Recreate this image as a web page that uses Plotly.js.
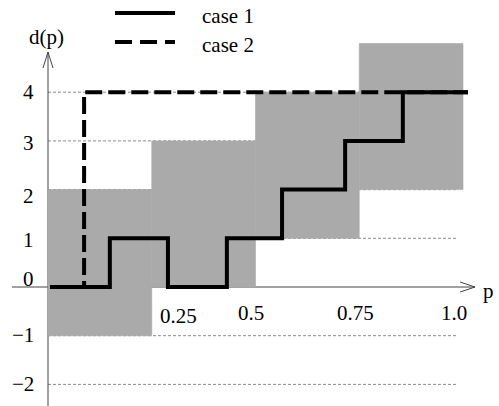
<!DOCTYPE html>
<html>
<head>
<meta charset="utf-8">
<script src="https://cdn.plot.ly/plotly-3.0.1.min.js"></script>
<style>html,body{margin:0;padding:0;background:#fff}#chart{width:499px;height:406px}</style>
</head>
<body>
<div id="chart"></div>
<script>
// ---- data ----
const seriesNames = ['case 1', 'case 2'];
const case1P = [0.005, 0.149, 0.289, 0.431, 0.564, 0.716, 0.855, 1.012];
const case1D = [0, 1, 0, 1, 2, 3, 4, 4];
const case2P = [0.005, 0.087, 1.012];
const case2D = [0, 4, 4];
// shaded intervals: p from..to, d from..to
const boxP0 = [0, 0.25, 0.5, 0.75];
const boxP1 = [0.25, 0.5, 0.75, 1.0];
const boxLo = [-1, 0, 1, 2];
const boxHi = [2, 3, 4, 5];
const gridLevels = [4, 3, 2, 1, -1, -2];
const xTickVals = [0.25, 0.5, 0.75, 1.0];
const xTickText = ['0.25', '0.5', '0.75', '1.0'];
const yTickVals = [4, 3, 2, 1, 0, -1, -2];
const yTickText = ['4', '3', '2', '1', '0', '\u22121', '\u22122'];
const xAxisTitle = 'p';
const yAxisTitle = 'd(p)';

// ---- layout tweaks (label nudges, px) ----
const xLabelShiftX = [27, -5, -4, -9];
const xLabelShiftY = [-3, 0, 0, 0];
const yLabelShiftY = [0, -2, -6, -2, 8, 1, 0];

const FONT = '"Liberation Serif", "Times New Roman", Times, serif';
const W = 499, H = 406;
const xr = [-48 / 415, -48 / 415 + W / 415];
const y0px = 287, ppu = 48.7;
const yr = [-(H - y0px) / ppu, y0px / ppu];
const gridEnd = 0.988;
const xAxisStart = -0.087, xAxisEnd = 1.029;
const yAxisTop = (y0px - 52) / ppu;
const BOX = '#aaaaaa';

const traces = [];
for (let i = 0; i < boxP0.length; i++) {
  traces.push({
    x: [boxP0[i], boxP1[i], boxP1[i], boxP0[i], boxP0[i]],
    y: [boxLo[i], boxLo[i], boxHi[i], boxHi[i], boxLo[i]],
    mode: 'lines', fill: 'toself', fillcolor: BOX,
    line: {width: 0.6, color: BOX}, hoverinfo: 'skip', showlegend: false
  });
}
traces.push({x: case2P, y: case2D, mode: 'lines', name: seriesNames[1],
  line: {shape: 'hv', color: '#000', width: 4, dash: '17px,6px'}, showlegend: false});
traces.push({x: case1P, y: case1D, mode: 'lines', name: seriesNames[0],
  line: {shape: 'hv', color: '#000', width: 4}, showlegend: false});

const shapes = [];
gridLevels.forEach(v => shapes.push({type: 'line', layer: 'below', xref: 'x', yref: 'y',
  x0: 0, x1: gridEnd, y0: v, y1: v, line: {color: '#8a8a8a', width: 1, dash: '3px,2px'}}));
// axes
shapes.push({type: 'line', layer: 'below', xref: 'x', yref: 'y', x0: xAxisStart, x1: xAxisEnd, y0: 0, y1: 0,
  line: {color: '#444', width: 1}});
shapes.push({type: 'line', layer: 'below', xref: 'x', yref: 'y', x0: 0, x1: 0, y0: yr[0], y1: yAxisTop,
  line: {color: '#444', width: 1}});
shapes.push({type: 'path', xref: 'x', yref: 'y', xsizemode: 'pixel', ysizemode: 'pixel',
  xanchor: xAxisEnd, yanchor: 0, path: 'M-15,-5L0,0L-15,5', line: {color: '#444', width: 1}});
shapes.push({type: 'path', xref: 'x', yref: 'y', xsizemode: 'pixel', ysizemode: 'pixel',
  xanchor: 0, yanchor: yAxisTop, path: 'M-5,-16L0,0L5,-16', line: {color: '#444', width: 1}});
// legend samples
shapes.push({type: 'line', xref: 'paper', yref: 'paper', x0: 115 / W, x1: 175 / W, y0: 1 - 13 / H, y1: 1 - 13 / H,
  line: {color: '#000', width: 4}});
shapes.push({type: 'line', xref: 'paper', yref: 'paper', x0: 115 / W, x1: 175 / W, y0: 1 - 42 / H, y1: 1 - 42 / H,
  line: {color: '#000', width: 4, dash: '17px,8px'}});

const annotations = [];
const tf = {family: FONT, size: 21, color: '#000'};
xTickVals.forEach((v, i) => annotations.push({x: v, xref: 'x', y: 1 - 313 / H, yref: 'paper',
  text: xTickText[i], showarrow: false, xanchor: 'center', yanchor: 'middle',
  xshift: xLabelShiftX[i], yshift: xLabelShiftY[i], font: tf}));
yTickVals.forEach((v, i) => annotations.push({x: 36 / W, xref: 'paper', y: v, yref: 'y',
  text: yTickText[i], showarrow: false, xanchor: 'right', yanchor: 'middle',
  yshift: yLabelShiftY[i], font: tf}));
annotations.push({x: 488 / W, xref: 'paper', y: 1 - 291 / H, yref: 'paper', text: xAxisTitle,
  showarrow: false, xanchor: 'center', yanchor: 'middle', font: tf});
annotations.push({x: 46 / W, xref: 'paper', y: 1 - 37 / H, yref: 'paper', text: yAxisTitle,
  showarrow: false, xanchor: 'center', yanchor: 'middle', font: tf});
annotations.push({x: 200 / W, xref: 'paper', y: 1 - 16 / H, yref: 'paper', text: seriesNames[0],
  showarrow: false, xanchor: 'left', yanchor: 'middle', font: tf});
annotations.push({x: 200 / W, xref: 'paper', y: 1 - 45 / H, yref: 'paper', text: seriesNames[1],
  showarrow: false, xanchor: 'left', yanchor: 'middle', font: tf});

const layout = {
  width: W, height: H, margin: {l: 0, r: 0, t: 0, b: 0},
  paper_bgcolor: '#fff', plot_bgcolor: '#fff', showlegend: false,
  xaxis: {range: xr, visible: false, fixedrange: true},
  yaxis: {range: yr, visible: false, fixedrange: true},
  shapes: shapes, annotations: annotations, font: {family: FONT}
};
Plotly.newPlot('chart', traces, layout, {displayModeBar: false, staticPlot: true});
</script>
</body>
</html>
